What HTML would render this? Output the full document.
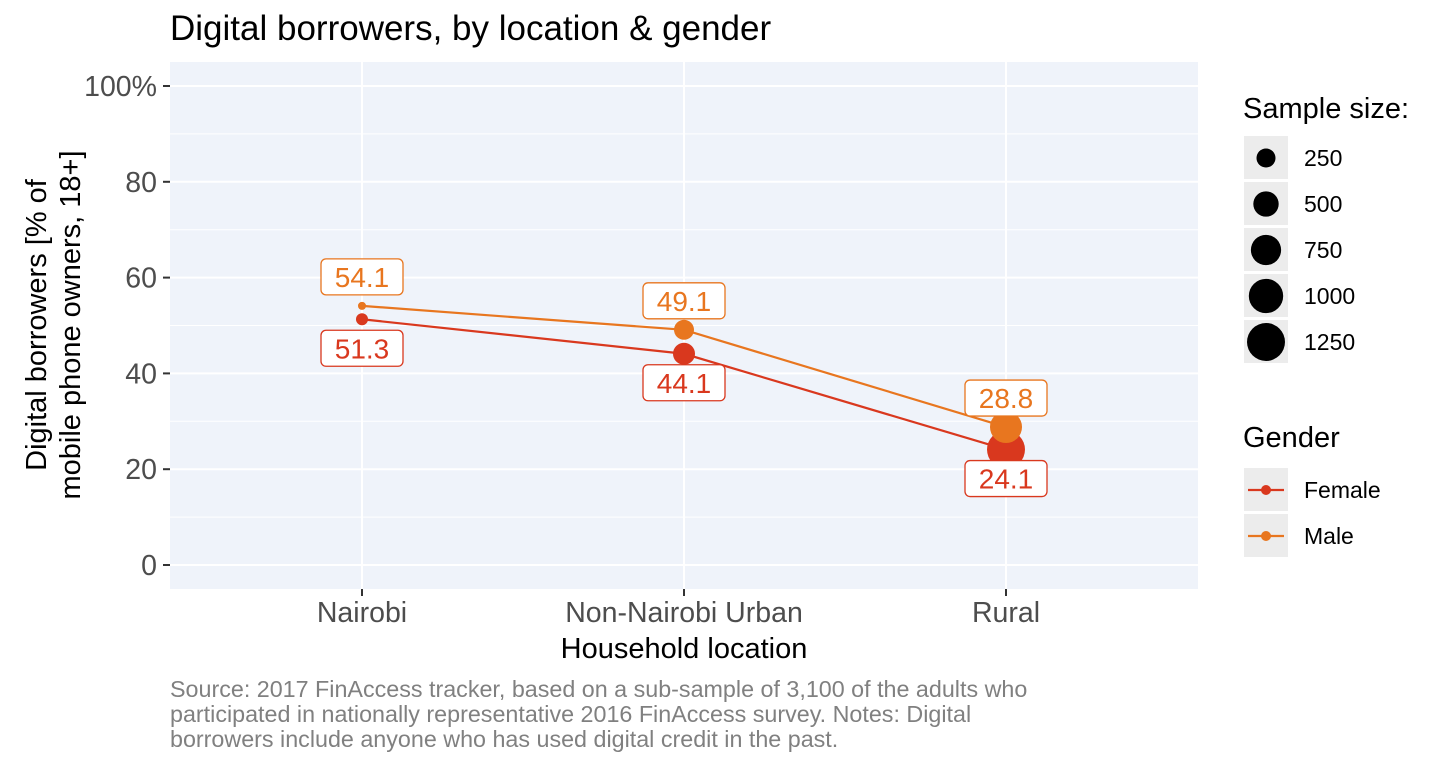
<!DOCTYPE html>
<html><head><meta charset="utf-8"><style>
body{margin:0;background:#fff;font-family:"Liberation Sans",Arial,sans-serif}
</style></head><body>
<svg id="chart" width="1440" height="768" xmlns="http://www.w3.org/2000/svg" font-family="Liberation Sans, Arial, sans-serif">
<text x="170" y="40" font-size="35" fill="#000">Digital borrowers, by location &amp; gender</text>
<rect x="170" y="62" width="1028" height="527" fill="#eff3fa"/>
<g id="grid"></g><g id="axes"></g><g id="marks"></g>
<text transform="translate(46,325) rotate(-90)" text-anchor="middle" font-size="29"><tspan x="0" dy="0">Digital borrowers [% of</tspan><tspan x="0" dy="34">mobile phone owners, 18+]</tspan></text>
<text x="684" y="658" text-anchor="middle" font-size="29">Household location</text>
<text font-size="23.3" fill="#808080"><tspan x="170" y="697">Source: 2017 FinAccess tracker, based on a sub-sample of 3,100 of the adults who</tspan><tspan x="170" y="722">participated in nationally representative 2016 FinAccess survey. Notes: Digital</tspan><tspan x="170" y="747">borrowers include anyone who has used digital credit in the past.</tspan></text>
<g id="legend"></g>
</svg>
<script>
const categories=["Nairobi","Non-Nairobi Urban","Rural"];
const femaleValues=[51.3,44.1,24.1];
const maleValues=[54.1,49.1,28.8];
const femaleN=[74,357,1250];
const maleN=[20,283,853];
const yTicks=[0,20,40,60,80,100];
const yTickLabels=["0","20","40","60","80","100%"];
const sizeLegend=[250,500,750,1000,1250];
const NS="http://www.w3.org/2000/svg";
const y=v=>565-v*4.79;
const x=i=>362+i*322;
const r=n=>1.84+0.485*Math.sqrt(n);
function mk(t,a,p){const e=document.createElementNS(NS,t);for(const k in a)e.setAttribute(k,a[k]);(p||document.getElementById('marks')).appendChild(e);return e;}
const grid=document.getElementById('grid'),axes=document.getElementById('axes');
for(let v=10;v<=100;v+=20){const l=mk('line',{x1:170,x2:1198,y1:y(v),y2:y(v),stroke:'#fff','stroke-width':1},grid);

}
yTicks.forEach((v,i)=>{const l=mk('line',{x1:170,x2:1198,y1:y(v),y2:y(v),stroke:'#fff','stroke-width':2},grid);


mk('line',{x1:163,x2:170,y1:y(v),y2:y(v),stroke:'#333','stroke-width':2},axes);
const t=mk('text',{x:157,y:y(v)+10,'text-anchor':'end','font-size':28.5,fill:'#4d4d4d'},axes);t.textContent=yTickLabels[i];

});
categories.forEach((c,i)=>{const l=mk('line',{x1:x(i),x2:x(i),y1:62,y2:589,stroke:'#fff','stroke-width':2},grid);


mk('line',{x1:x(i),x2:x(i),y1:589,y2:596,stroke:'#333','stroke-width':2},axes);
const t=mk('text',{x:x(i),y:622,'text-anchor':'middle','font-size':28.5,fill:'#4d4d4d'},axes);t.textContent=c;

});
function series(vals,ns,col,name,above){
const pl=mk('polyline',{points:vals.map((v,i)=>x(i)+','+y(v)).join(' '),fill:'none',stroke:col,'stroke-width':2.2});


vals.forEach((v,i)=>{const c=mk('circle',{cx:x(i),cy:y(v),r:r(ns[i]),fill:col});

});
vals.forEach((v,i)=>{const cy=above?y(v)-29:y(v)+29;
const b=mk('rect',{x:x(i)-41,y:cy-18,width:82,height:36,rx:5,fill:'#fff',stroke:col,'stroke-width':1.3});


const t=mk('text',{x:x(i),y:cy+10,'text-anchor':'middle','font-size':28,fill:col});t.textContent=v.toFixed(1);

});}
series(femaleValues,femaleN,'#d9381e','female',false);
series(maleValues,maleN,'#e8761f','male',true);
const lg=document.getElementById('legend');
let t=mk('text',{x:1243,y:118,'font-size':29},lg);t.textContent='Sample size:';


sizeLegend.forEach((n,i)=>{const cy=158+i*46;
mk('rect',{x:1244,y:cy-22,width:44,height:43,fill:'#ececec'},lg);
const c=mk('circle',{cx:1266,cy:cy,r:r(n),fill:'#000'},lg);


const tt=mk('text',{x:1304,y:cy+8,'font-size':23},lg);tt.textContent=n;

});
t=mk('text',{x:1243,y:447,'font-size':29},lg);t.textContent='Gender';


[['Female','#d9381e'],['Male','#e8761f']].forEach((g,i)=>{const cy=490+i*46;
mk('rect',{x:1244,y:cy-22,width:44,height:43,fill:'#ececec'},lg);
mk('line',{x1:1248,x2:1284,y1:cy,y2:cy,stroke:g[1],'stroke-width':2.2},lg);
const c=mk('circle',{cx:1266,cy:cy,r:5,fill:g[1]},lg);


const tt=mk('text',{x:1304,y:cy+8,'font-size':23},lg);tt.textContent=g[0];

});
</script>
</body></html>
